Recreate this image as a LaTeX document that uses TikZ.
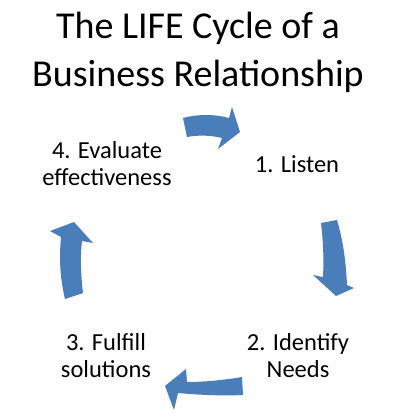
\documentclass[tikz,border=0pt]{standalone}
\usepackage{fontspec}
\setmainfont{Carlito}
\usepackage{tikz}
\definecolor{lifeblue}{HTML}{4A7EBB}

\begin{document}
\begin{tikzpicture}[x=1pt,y=-1pt,
	cyclearrow/.style={fill=lifeblue},
	steplabel/.style={align=center,font=\fontsize{24.5}{27}\selectfont}]
	\useasboundingbox (0,0) rectangle (414,415);

	\node[align=center,font=\fontsize{38}{48}\selectfont] (title) at (198,52){The LIFE Cycle of a\\Business Relationship};

	\node[steplabel,anchor=base] (listen) at (297,172){1. Listen};
	\node[steplabel] (identify) at (298,356){2. Identify\\Needs};
	\node[steplabel] (fulfill) at (106,356){3. Fulfill\\solutions};
	\node[steplabel] (evaluate) at (107,164){4. Evaluate\\effectiveness};

	% curved block arrows between the steps
	\fill[cyclearrow] (183,118) .. controls (198,114) and (214,114) .. (229,118) -- (232,107) -- (240,132) -- (218,149) -- (222,138) .. controls (210,135) and (198,135) .. (187,137) -- cycle;
	\fill[cyclearrow] (321,223) -- (337,220) .. controls (343,240) and (346,262) .. (347,285) -- (354,288) -- (336,296) -- (313,275) -- (323,277) .. controls (324,258) and (323,240) .. (321,223) -- cycle;
	\fill[cyclearrow] (242,377) .. controls (224,380) and (205,382) .. (187,382) -- (186,369) -- (165,386) -- (174,410) -- (178,393) .. controls (200,395) and (222,396) .. (243,395) -- cycle;
	\fill[cyclearrow] (74,222) -- (93,243) -- (82,241) .. controls (80,258) and (81,276) .. (83,293) -- (65,299) .. controls (60,278) and (59,258) .. (61,237) -- (50,231) -- cycle;
\end{tikzpicture}
\end{document}
